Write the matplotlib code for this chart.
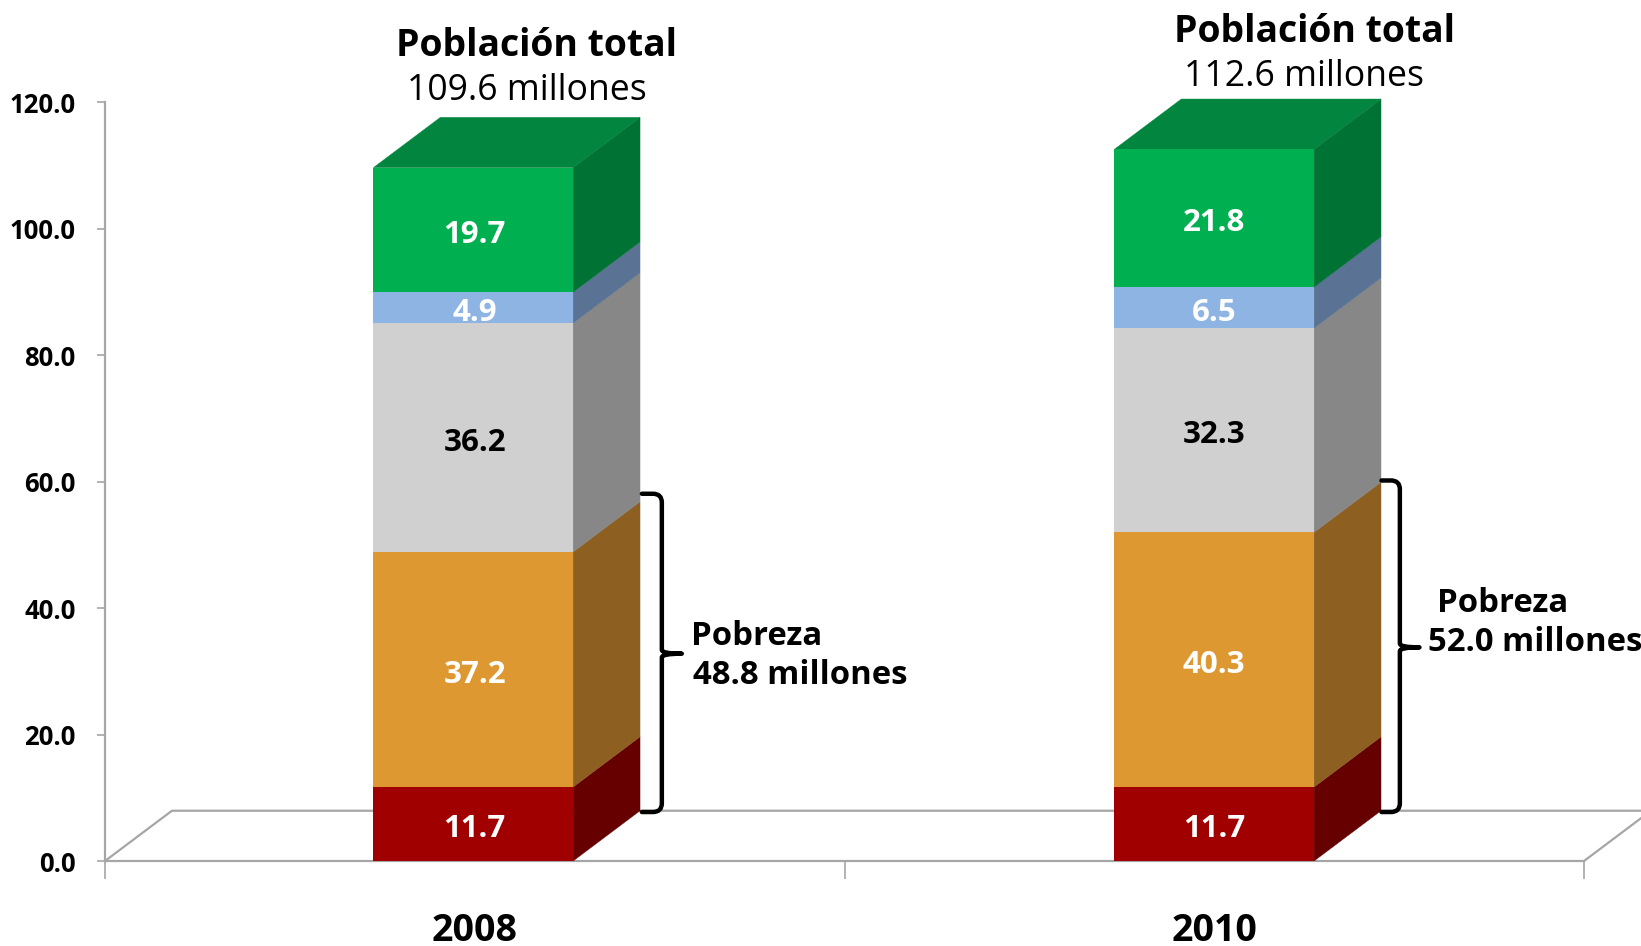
import matplotlib
matplotlib.use("Agg")
import matplotlib.pyplot as plt
from matplotlib.patches import Polygon, PathPatch
from matplotlib.path import Path

years = ["2008", "2010"]
pobreza_extrema = [11.7, 11.7]
pobreza_moderada = [37.2, 40.3]
vulnerables_carencias = [36.2, 32.3]
vulnerables_ingresos = [4.9, 6.5]
no_pobres = [19.7, 21.8]
totales = ["109.6", "112.6"]
pobreza_total = ["48.8", "52.0"]
pobreza_val = [48.8, 52.0]
yticks = [0, 20, 40, 60, 80, 100, 120]

series = [pobreza_extrema, pobreza_moderada, vulnerables_carencias, vulnerables_ingresos, no_pobres]
front_cols = ["#A00000", "#DD9832", "#D0D0D0", "#8EB4E3", "#00B050"]
side_cols = ["#660000", "#8D6021", "#878787", "#5A7394", "#007233"]
text_cols = ["white", "white", "black", "white", "white"]
top_col = "#02853F"
line_col = "#A6A6A6"
FONT = "Open Sans"

W, H = 1641, 946
fig = plt.figure(figsize=(W / 100, H / 100), dpi=100, facecolor="white")
ax = fig.add_axes([105 / W, 1 - 861 / H, (1584 - 105) / W, (861 - 102.5) / H])
ax.set_xlim(-0.5, 1.5)
ax.set_ylim(0, 120)

bw = 0.27
dx = 0.0905
dy = 7.95
bar_shift = [-0.002, 0.0]

# floor
ax.plot([-0.5, -0.5 + dx, 1.5 + dx], [0, dy, dy], color=line_col, lw=1.6, clip_on=False, zorder=1)
ax.plot([1.5, 1.5 + dx], [0, dy], color=line_col, lw=1.6, clip_on=False, zorder=1)

for i in range(2):
    c = i + bar_shift[i]
    l, r = c - bw / 2, c + bw / 2
    base = 0
    for s, fc, sc, tc in zip(series, front_cols, side_cols, text_cols):
        v = s[i]
        ax.bar(c, v, bw, bottom=base, color=fc, lw=0, zorder=4)
        ax.add_patch(Polygon([(r, base), (r + dx, base + dy), (r + dx, base + v + dy), (r, base + v)],
                             closed=True, fc=sc, ec=sc, lw=0.3, zorder=3, clip_on=False))
        ax.text(i, base + v / 2 - 0.25, f"{v:.1f}", color=tc, ha="center", va="center_baseline",
                fontsize=22.5, fontweight="bold", family=FONT, zorder=6)
        base += v
    ax.add_patch(Polygon([(l, base), (l + dx, base + dy), (r + dx, base + dy), (r, base)],
                         closed=True, fc=top_col, ec=top_col, lw=0.3, zorder=3, clip_on=False))

# headers
title_dx = [0.084, 0.135]
sub_dx = [0.07, 0.121]
title_dy = [19.2, 18.6]
sub_dy = [12.1, 11.5]
for i in range(2):
    tot = sum(s[i] for s in series)
    ax.text(i + title_dx[i], tot + title_dy[i], "Población total", ha="center", va="center",
            fontsize=26.9, fontweight="bold", family=FONT, clip_on=False)
    ax.text(i + sub_dx[i], tot + sub_dy[i], f"{totales[i]} millones", ha="center", va="center",
            fontsize=25.7, family=FONT, clip_on=False)

# braces
b_left = [0.2260, 0.2261]
b_mid = [0.2530, 0.2510]
b_tip = [0.2800, 0.2775]
b_top_extra = [9.3, 8.2]
tip_y = [32.8, 33.8]
for i in range(2):
    x0, xm, xt = i + b_left[i], i + b_mid[i], i + b_tip[i]
    top = pobreza_val[i] + b_top_extra[i]
    bot = dy - 0.2
    c = 0.012
    verts = [(x0, top), (xm - c, top), (xm, top), (xm, top - 1.4),
             (xm, tip_y[i] + 0.6), (xm, tip_y[i]), (xt, tip_y[i]),
             (xm, tip_y[i]), (xm, tip_y[i] - 0.6),
             (xm, bot + 1.4), (xm, bot), (xm - c, bot), (x0, bot)]
    codes = [Path.MOVETO, Path.LINETO, Path.CURVE3, Path.CURVE3,
             Path.LINETO, Path.CURVE3, Path.CURVE3,
             Path.CURVE3, Path.CURVE3,
             Path.LINETO, Path.CURVE3, Path.CURVE3, Path.LINETO]
    ax.add_patch(PathPatch(Path(verts, codes), fc="none", ec="black", lw=3.2,
                           capstyle="round", joinstyle="round", clip_on=False, zorder=6))

# poverty labels
pob_x = [0.292, 0.3007]
pob_xv = [0.295, 0.2896]
pob_y = [35.5, 40.7]
pob_yv = [29.3, 34.5]
for i in range(2):
    ax.text(i + pob_x[i], pob_y[i], "Pobreza", ha="left", va="center", fontsize=23.7,
            fontweight="bold", family=FONT, clip_on=False)
    ax.text(i + pob_xv[i], pob_yv[i], f"{pobreza_total[i]} millones", ha="left", va="center",
            fontsize=23.7, fontweight="bold", family=FONT, clip_on=False)

# axes
for s in ("top", "right"):
    ax.spines[s].set_visible(False)
for s in ("left", "bottom"):
    ax.spines[s].set_color(line_col)
    ax.spines[s].set_linewidth(1.6)
    ax.spines[s].set_zorder(2)
ax.set_yticks(yticks)
ax.set_yticklabels([f"{v:.1f}" for v in yticks], fontsize=18.5, fontweight="bold", family=FONT)
ax.tick_params(axis="y", length=6, width=1.2, color=line_col, pad=15)
ax.set_xticks([-0.5, 0.5, 1.5])
ax.set_xticklabels([])
ax.set_xticks([0, 1], minor=True)
ax.set_xticklabels(years, minor=True, fontsize=27, fontweight="bold", family=FONT)
ax.tick_params(axis="x", which="major", length=13, width=1.2, color=line_col)
ax.tick_params(axis="x", which="minor", length=0, pad=37)
ax.patch.set_alpha(0)

fig.savefig("out.png", dpi=100)
